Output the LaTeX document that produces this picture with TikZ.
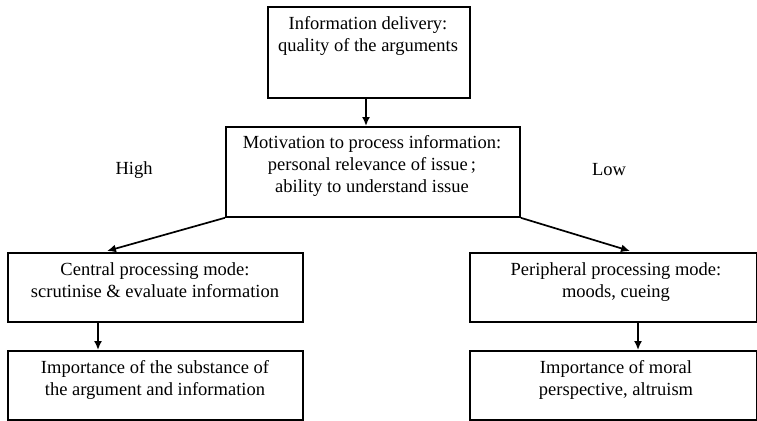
\documentclass[tikz,border=0pt]{standalone}
\usepackage{fontspec}
\setmainfont{Liberation Serif}
\usetikzlibrary{arrows.meta}
\begin{document}
\begin{tikzpicture}[x=1pt,y=-1pt,
  box/.style={draw,line width=1.8pt,rectangle,inner sep=0pt,anchor=north west},
  txt/.style={align=center,inner sep=0pt,font=\fontsize{18.5}{22}\selectfont},
  arr/.style={line width=1.7pt,-{Latex[length=9pt,width=8pt]}}]
\useasboundingbox (0,0) rectangle (757,420);
\node[box,minimum width=202pt,minimum height=91pt] (top) at (267,6) {};
\node[txt,anchor=north] (toptxt) at (368,16) {Information delivery:\\quality of the arguments};
\node[box,minimum width=294pt,minimum height=90pt] (mid) at (225,126) {};
\node[txt,anchor=north] (midtxt) at (372,135) {Motivation to process information:\\personal relevance of issue\,;\\ability to understand issue};
\node[box,minimum width=295pt,minimum height=69pt] (c1) at (7,252) {};
\node[txt,anchor=north] (c1txt) at (155,262) {Central processing mode:\\scrutinise \& evaluate information};
\node[box,minimum width=295pt,minimum height=69pt] (c2) at (7,350) {};
\node[txt,anchor=north] (c2txt) at (155,360) {Importance of the substance of\\the argument and information};
\node[box,minimum width=287pt,minimum height=69pt] (p1) at (469,252) {};
\node[txt,anchor=north] (p1txt) at (616,262) {Peripheral processing mode:\\moods, cueing};
\node[box,minimum width=287pt,minimum height=69pt] (p2) at (469,350) {};
\node[txt,anchor=north] (p2txt) at (616,360) {Importance of moral\\perspective, altruism};
\node[txt] (high) at (134,170) {High};
\node[txt] (low) at (609,170) {Low};
\coordinate (ct) at (107,251);
\coordinate (pt) at (630,251);
\draw[arr] (top.south -| 366,0) -- (mid.north -| 366,0);
\draw[arr] (mid.south west) -- (ct);
\draw[arr] (mid.south east) -- (pt);
\draw[arr] (c1.south -| 98,0) -- (c2.north -| 98,0);
\draw[arr] (p1.south -| 638,0) -- (p2.north -| 638,0);
\end{tikzpicture}
\end{document}
